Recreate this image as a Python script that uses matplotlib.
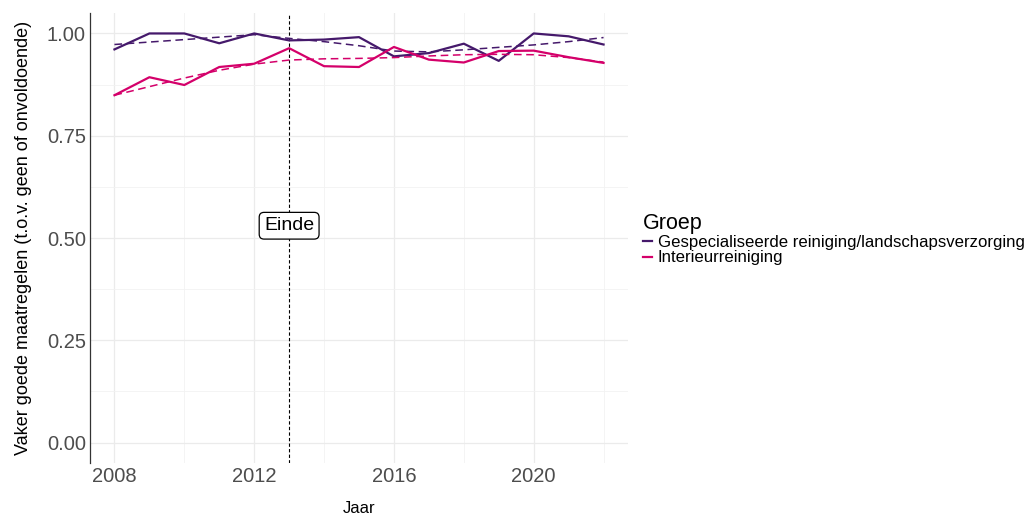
import matplotlib
matplotlib.use("Agg")
import matplotlib.pyplot as plt
from matplotlib.ticker import MultipleLocator

plt.rcParams['font.family'] = ['Liberation Sans', 'DejaVu Sans']

years = list(range(2008, 2023))
groups = ["Gespecialiseerde reiniging/landschapsverzorging", "Interieurreiniging"]

gespec = [0.961, 1.000, 1.000, 0.976, 1.000, 0.983, 0.985, 0.991, 0.944, 0.952,
          0.975, 0.933, 1.000, 0.993, 0.973]
interieur = [0.849, 0.893, 0.874, 0.918, 0.926, 0.964, 0.920, 0.918, 0.967, 0.936,
             0.929, 0.957, 0.958, 0.942, 0.928]

gespec_fit = [0.973, 0.979, 0.985, 0.991, 0.997, 0.988, 0.980, 0.970, 0.957, 0.955,
              0.960, 0.966, 0.972, 0.980, 0.990]
interieur_fit = [0.849, 0.870, 0.891, 0.910, 0.925, 0.935, 0.938, 0.939, 0.941, 0.945,
                 0.948, 0.949, 0.948, 0.941, 0.930]

break_year = 2013
label_y = 0.53
label_text = "Einde"

colors = ["#45196B", "#D4006A"]

fig = plt.figure(figsize=(10.31, 5.15), dpi=100)
ax = fig.add_axes([90/1031, 52/515, 538/1031, 450/515])

for vals, fit, c, g in zip([gespec, interieur], [gespec_fit, interieur_fit], colors, groups):
    ax.plot(years, vals, color=c, lw=1.6, label=g, zorder=3)
    ax.plot(years, fit, color=c, lw=1.1, ls=(0, (5, 3)), zorder=3)

ax.axvline(break_year, color="black", lw=0.8, ls=(0, (3, 2)), zorder=2)
ax.text(break_year, label_y, label_text, ha="center", va="center", fontsize=14,
        bbox=dict(boxstyle="round,pad=0.25", fc="white", ec="black", lw=0.9), zorder=4)

ax.set_xlim(2007.3, 2022.7)
ax.set_ylim(-0.05, 1.05)
ax.xaxis.set_major_locator(MultipleLocator(4))
ax.xaxis.set_minor_locator(MultipleLocator(2))
ax.yaxis.set_minor_locator(MultipleLocator(0.125))
ax.set_yticks([0, 0.25, 0.5, 0.75, 1.0])
ax.set_yticklabels(["0.00", "0.25", "0.50", "0.75", "1.00"])
ax.grid(True, which="major", color="#EBEBEB", lw=0.9)
ax.grid(True, which="minor", color="#F2F2F2", lw=0.6)
ax.set_axisbelow(True)
for s in ["top", "right", "bottom"]:
    ax.spines[s].set_visible(False)
ax.spines["left"].set_color("#333333")
ax.spines["left"].set_linewidth(0.9)
ax.tick_params(axis="both", which="both", length=0, labelsize=14.5, colors="#4D4D4D")
ax.tick_params(axis="y", pad=3)
ax.tick_params(axis="x", pad=3)
ax.set_xlabel("Jaar", fontsize=12, labelpad=10.5)
ax.set_ylabel("Vaker goede maatregelen (t.o.v. geen of onvoldoende)", fontsize=13, labelpad=11)

leg = fig.legend(loc="upper left", bbox_to_anchor=(636/1031, 1 - 206/515), title="Groep",
                 frameon=False, fontsize=12.1, title_fontsize=15.5, handlelength=0.55,
                 handletextpad=0.35, labelspacing=0.05, borderaxespad=0)
leg._legend_box.align = "left"

fig.savefig("out.png", dpi=100)
